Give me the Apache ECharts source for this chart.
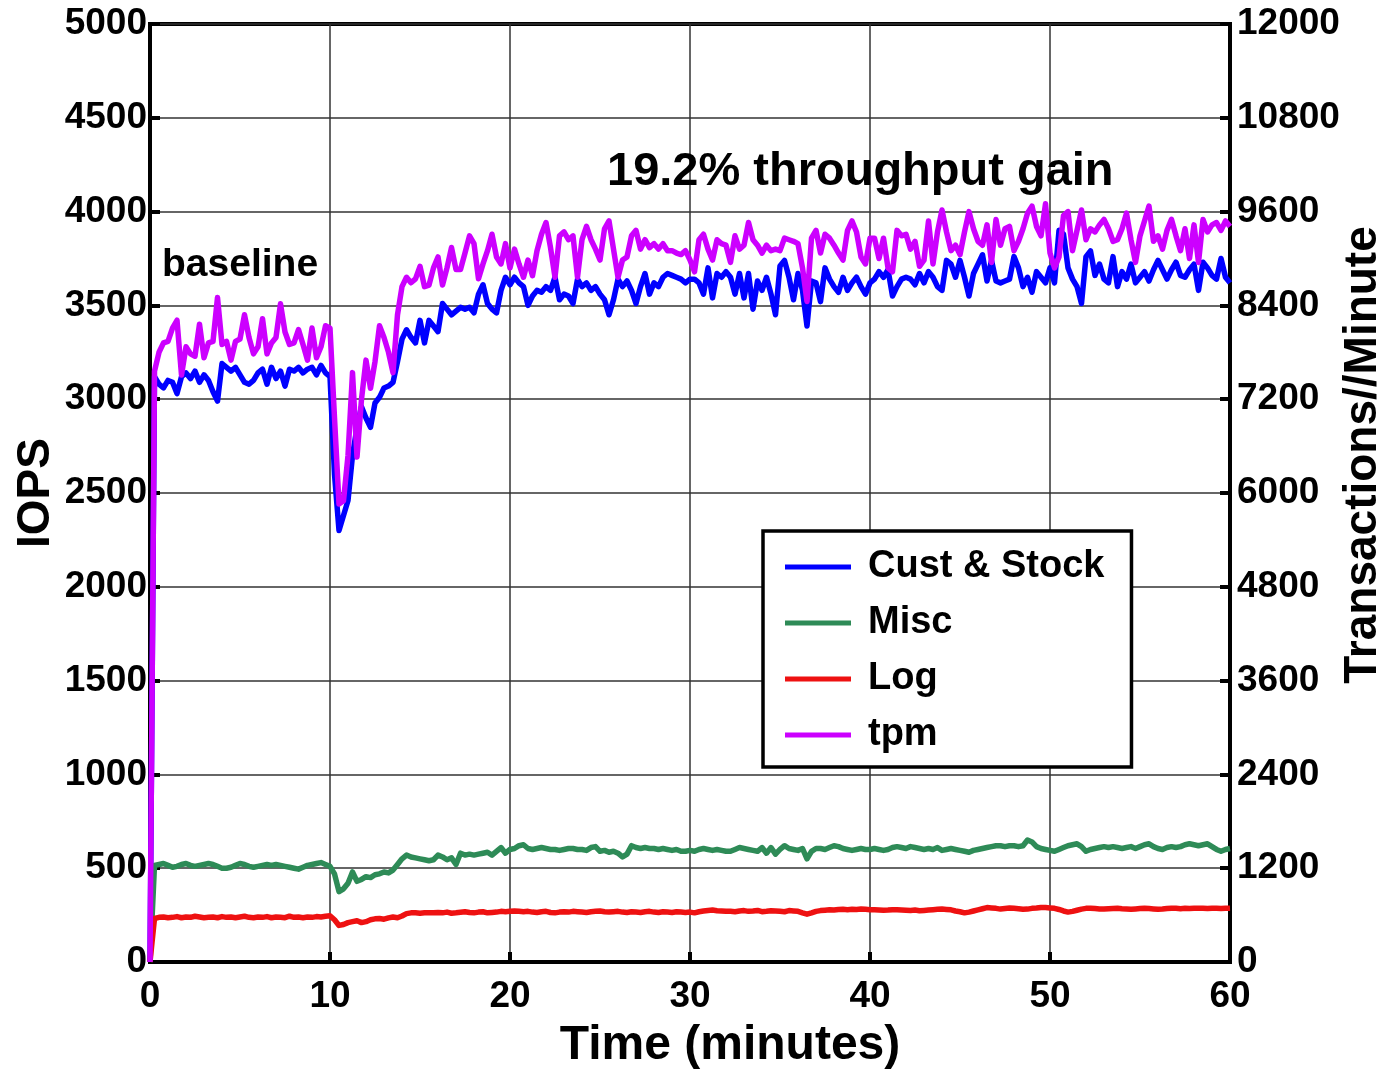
<!DOCTYPE html>
<html>
<head>
<meta charset="utf-8">
<title>IOPS and throughput over time</title>
<script src="https://cdn.jsdelivr.net/npm/echarts@6/dist/echarts.min.js"></script>
<style>
  html, body { margin: 0; padding: 0; background: #fff; }
  #chart { width: 1385px; height: 1071px; }
</style>
</head>
<body>
<div id="chart"></div>
<script>
// Sample times in minutes (one sample every 15 s over the 60-minute run)
const minutes = Array.from({ length: 241 }, (_, i) => i * 0.25);

// IOPS for the customer & stock volume
const custStock = [0,
  3120,3080,3060,3100,3090,3030,3120,3140,3110,3150, 3090,3130,3100,3040,2990,3190,3170,3150,3170,3130,
  3090,3080,3100,3140,3160,3080,3170,3110,3150,3070, 3160,3150,3170,3140,3160,3170,3130,3180,3140,3120,
  2600,2300,2380,2460,2700,2850,2960,2900,2850,2980, 3010,3060,3070,3090,3200,3320,3370,3330,3300,3420,
  3300,3420,3390,3360,3510,3480,3450,3470,3490,3480, 3490,3460,3560,3610,3510,3480,3460,3580,3650,3610,
  3650,3620,3600,3500,3550,3580,3570,3600,3580,3650, 3530,3560,3550,3510,3640,3600,3620,3580,3600,3560,
  3530,3450,3530,3640,3600,3630,3580,3510,3600,3670, 3560,3620,3600,3650,3670,3660,3650,3640,3620,3640,
  3640,3620,3560,3700,3540,3670,3650,3680,3650,3560, 3670,3540,3670,3480,3630,3580,3650,3560,3450,3710,
  3740,3650,3530,3670,3580,3390,3630,3620,3520,3700, 3640,3600,3570,3650,3580,3620,3650,3600,3560,3620,
  3640,3680,3650,3690,3550,3600,3640,3650,3640,3610, 3670,3620,3680,3650,3600,3580,3740,3720,3650,3740,
  3650,3550,3670,3720,3770,3630,3740,3630,3620,3630, 3640,3760,3700,3600,3650,3570,3680,3650,3620,3700,
  3620,3900,3880,3700,3640,3600,3510,3760,3790,3660, 3720,3640,3620,3760,3600,3680,3640,3720,3620,3650,
  3680,3630,3690,3740,3690,3640,3690,3730,3660,3650, 3690,3720,3580,3730,3700,3660,3640,3750,3650,3620
];

// IOPS for the miscellaneous volume
const misc = [0,
  515,520,525,515,505,510,520,525,515,510, 515,520,525,520,510,500,500,505,515,525,
  520,510,505,510,515,520,515,520,515,510, 505,500,495,505,515,520,525,530,520,510,
  470,375,390,420,480,430,440,455,450,465, 470,480,475,490,520,550,570,560,555,550,
  545,540,545,570,560,545,555,520,580,570, 575,570,575,580,585,570,590,610,580,600,
  605,620,625,605,600,605,610,605,600,600, 595,600,605,605,600,600,595,610,615,590,
  595,585,590,580,560,575,620,610,605,610, 605,605,600,605,600,595,600,590,590,595,
  590,600,605,600,595,600,595,590,590,600, 610,605,600,595,590,610,580,610,575,600,
  620,605,600,595,605,550,590,605,605,600, 610,620,615,605,600,595,600,605,600,600,
  605,600,595,600,610,615,610,605,615,610, 605,600,605,600,610,595,600,605,600,595,
  590,585,595,600,605,610,615,620,620,615, 620,620,615,620,650,640,615,605,600,595,
  590,600,610,620,625,630,615,590,600,605, 610,615,610,615,610,605,610,615,605,615,
  625,630,615,605,600,610,615,610,615,625, 630,625,620,625,630,615,600,590,600,605
];

// IOPS for the log volume
const log = [0,
  232,238,240,236,238,242,236,240,238,244, 240,236,238,240,236,242,238,240,236,240,
  244,238,236,240,238,242,236,240,238,236, 244,238,240,236,240,238,242,240,244,246,
  225,195,200,210,215,220,210,215,225,230, 232,228,235,240,236,245,258,262,262,260,
  262,263,262,264,262,266,260,262,265,268, 264,262,266,268,262,264,266,270,268,270,
  272,270,268,270,266,264,268,270,264,262, 266,268,266,270,268,266,264,268,270,272,
  268,266,268,270,266,264,268,266,264,268, 270,266,264,268,266,264,268,266,264,266,
  262,268,272,275,277,273,272,270,270,268, 272,274,270,272,275,268,270,273,272,270,
  268,274,272,270,262,255,262,270,274,276, 278,277,280,281,279,281,280,282,281,279,
  278,277,276,277,279,278,277,276,275,277, 273,275,277,279,281,282,280,278,272,268,
  262,266,272,278,284,290,288,286,282,285, 288,286,284,281,282,286,288,291,290,288,
  286,280,272,266,270,276,282,286,287,285, 283,282,284,285,286,284,283,281,283,285,
  286,285,283,281,282,285,287,286,284,286, 285,286,287,286,285,286,286,285,286,287
];

// Transactions per minute (right axis)
const tpm = [0,
  7560,7800,7920,7940,8110,8210,7510,7870,7780,7750, 8160,7730,7920,7940,8500,7900,7940,7700,7940,7970,
  8280,7990,7780,7870,8230,7780,7920,7990,8420,8060, 7900,7920,8090,7900,7700,8110,7730,7870,8140,8110,
  6960,5860,5900,6480,7540,6460,7200,7700,7340,7680, 8140,7990,7800,7540,8280,8640,8760,8690,8740,8900,
  8640,8660,8880,9020,8660,8880,9140,8860,8860,9070, 9290,9190,8740,8930,9100,9310,9020,8930,9190,8880,
  9120,8930,8760,8980,8780,9100,9310,9460,9140,8760, 9290,9340,9240,9290,8760,9240,9410,9240,9120,8980,
  9380,9480,9120,8760,8980,9020,9290,9360,9120,9240, 9140,9190,9120,9190,9100,9100,9070,9050,9100,8980,
  8830,9240,9310,9120,8980,9240,9190,9170,8950,9290, 9120,9170,9460,9240,9170,9070,9170,9100,9120,9100,
  9260,9240,9220,9190,8880,8450,9260,9360,9070,9310, 9260,9170,9070,8980,9360,9480,9340,9020,8930,9260,
  9260,9000,9260,8880,8830,9360,9290,9310,9120,9220, 8900,8980,9480,8930,9340,9620,9340,9100,9170,9050,
  9340,9600,9380,9220,9170,9430,8950,9500,9170,9380, 9410,9100,9220,9380,9580,9670,9410,9290,9700,9070,
  8880,9020,9550,9600,9100,9360,9620,9240,9380,9340, 9430,9500,9380,9220,9240,9380,9580,9240,8950,9290,
  9480,9670,9220,9290,9120,9360,9500,9290,9100,9380, 9000,9430,8950,9500,9340,9430,9460,9360,9480,9410
];

const seriesNames = ['Cust & Stock', 'Misc', 'Log', 'tpm'];
const seriesColors = ['#0000ff', '#2e8b57', '#ee1111', '#cc00ff'];

const FONT = '"Liberation Sans", Arial, sans-serif';

function pairs(values) {
  return minutes.map((t, i) => [t, values[i]]);
}

function lineSeries(idx, values, yAxisIndex) {
  return {
    name: seriesNames[idx],
    type: 'line',
    yAxisIndex: yAxisIndex,
    data: pairs(values),
    showSymbol: false,
    symbol: 'none',
    smooth: false,
    lineStyle: { color: seriesColors[idx], width: 5.5, join: 'round' },
    itemStyle: { color: seriesColors[idx] },
    z: 3 + idx
  };
}

// plain integers, no thousands separators
const plain = v => String(Math.round(v));
const tickLabel = { fontFamily: FONT, fontWeight: 'bold', fontSize: 37, color: '#000', formatter: plain };

const chart = echarts.init(document.getElementById('chart'), null, { renderer: 'canvas' });

chart.setOption({
  animation: false,
  backgroundColor: '#fff',
  grid: {
    left: 150, right: 155, top: 24, bottom: 109,
    containLabel: false, outerBoundsMode: 'none',
    show: true, borderColor: '#000', borderWidth: 4, backgroundColor: 'transparent'
  },
  xAxis: {
    type: 'value', min: 0, max: 60, interval: 10,
    name: 'Time (minutes)', nameLocation: 'middle', nameGap: 60, nameMoveOverlap: false,
    nameTextStyle: { fontFamily: FONT, fontWeight: 'bold', fontSize: 48, color: '#000', padding: [0, 0, 0, 80] },
    axisLine: { show: true, lineStyle: { color: '#000', width: 4 } },
    axisTick: { show: true, inside: true, length: 10, lineStyle: { color: '#000', width: 4 } },
    axisLabel: Object.assign({}, tickLabel, { margin: 16 }),
    splitLine: { show: true, lineStyle: { color: '#333', width: 1.5 } }
  },
  yAxis: [
    {
      type: 'value', min: 0, max: 5000, interval: 500, position: 'left',
      name: 'IOPS', nameLocation: 'middle', nameGap: 91, nameMoveOverlap: false,
      nameTextStyle: { fontFamily: FONT, fontWeight: 'bold', fontSize: 46, color: '#000' },
      axisLine: { show: true, lineStyle: { color: '#000', width: 4 } },
      axisTick: { show: true, inside: true, length: 10, lineStyle: { color: '#000', width: 4 } },
      axisLabel: Object.assign({}, tickLabel, { margin: 3 }),
      splitLine: { show: true, lineStyle: { color: '#333', width: 1.5 } }
    },
    {
      type: 'value', min: 0, max: 12000, interval: 1200, position: 'right',
      name: 'Transactions//Minute', nameLocation: 'middle', nameGap: 110, nameMoveOverlap: false,
      nameTextStyle: { fontFamily: FONT, fontWeight: 'bold', fontSize: 46, color: '#000', padding: [0, 0, 0, 76] },
      axisLine: { show: true, lineStyle: { color: '#000', width: 4 } },
      axisTick: { show: true, inside: true, length: 10, lineStyle: { color: '#000', width: 4 } },
      axisLabel: Object.assign({}, tickLabel, { margin: 7 }),
      splitLine: { show: false }
    }
  ],
  legend: {
    orient: 'vertical',
    left: 763, top: 531,
    padding: [16, 27, 12, 22],
    itemGap: 16,
    itemWidth: 66, itemHeight: 5,
    icon: 'rect',
    backgroundColor: '#fff',
    borderColor: '#000', borderWidth: 3.5,
    textStyle: { fontFamily: FONT, fontWeight: 'bold', fontSize: 38, color: '#000', lineHeight: 40, padding: [0, 0, 0, 12] },
    data: seriesNames
  },
  graphic: [
    {
      type: 'text', x: 162, y: 265, z: 10,
      style: { text: 'baseline', font: 'bold 39px ' + FONT, fill: '#000', verticalAlign: 'middle' }
    },
    {
      type: 'text', x: 607, y: 172, z: 10,
      style: { text: '19.2% throughput gain', font: 'bold 47px ' + FONT, fill: '#000', verticalAlign: 'middle' }
    }
  ],
  series: [
    lineSeries(0, custStock, 0),
    lineSeries(1, misc, 0),
    lineSeries(2, log, 0),
    lineSeries(3, tpm, 1)
  ]
});
</script>
</body>
</html>
